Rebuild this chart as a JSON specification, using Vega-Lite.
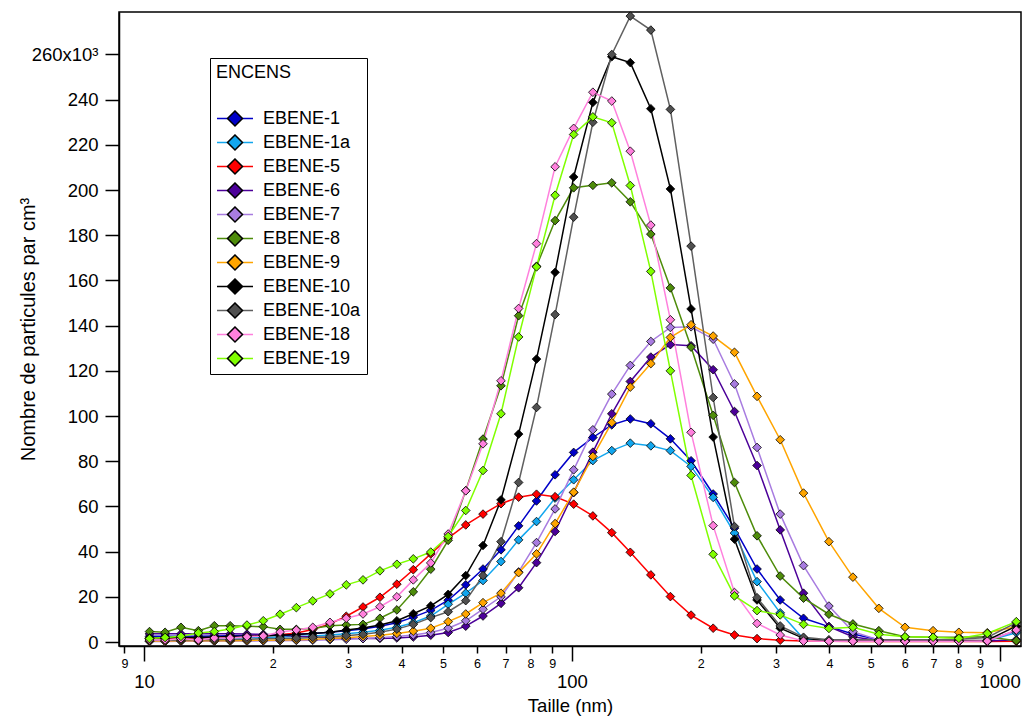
{
  "$schema": "https://vega.github.io/schema/vega-lite/v6.json",
  "width": 902,
  "height": 634,
  "autosize": {"type": "none"},
  "padding": {"left": 119, "top": 12, "right": 2, "bottom": 70},
  "background": "white",
  "config": {
    "font": "Liberation Sans",
    "view": {"stroke": "black", "strokeWidth": 1.5},
    "axis": {"grid": false, "domainColor": "black", "tickColor": "black", "labelColor": "black", "titleColor": "black", "titleFontWeight": "normal", "domainWidth": 1.5, "tickWidth": 1.5}
  },
  "data": {"values": [
    {"d": 10.3, "EBENE-1": 2.5, "EBENE-1a": 1.5, "EBENE-5": 1.5, "EBENE-6": 3.6, "EBENE-7": 0.2, "EBENE-8": 4.6, "EBENE-9": 0.4, "EBENE-10": 1.8, "EBENE-10a": 0.8, "EBENE-18": 0.9, "EBENE-19": 1.5},
    {"d": 11.2, "EBENE-1": 2.5, "EBENE-1a": 1.5, "EBENE-5": 1.6, "EBENE-6": 3.6, "EBENE-7": 0.2, "EBENE-8": 4.3, "EBENE-9": 0.4, "EBENE-10": 1.8, "EBENE-10a": 0.8, "EBENE-18": 0.9, "EBENE-19": 2.0},
    {"d": 12.2, "EBENE-1": 2.6, "EBENE-1a": 1.6, "EBENE-5": 1.7, "EBENE-6": 3.6, "EBENE-7": 0.3, "EBENE-8": 6.5, "EBENE-9": 0.5, "EBENE-10": 2.0, "EBENE-10a": 0.9, "EBENE-18": 1.5, "EBENE-19": 2.5},
    {"d": 13.4, "EBENE-1": 2.6, "EBENE-1a": 1.6, "EBENE-5": 1.8, "EBENE-6": 3.7, "EBENE-7": 0.3, "EBENE-8": 5.0, "EBENE-9": 0.5, "EBENE-10": 2.0, "EBENE-10a": 1.0, "EBENE-18": 0.9, "EBENE-19": 4.0},
    {"d": 14.6, "EBENE-1": 2.7, "EBENE-1a": 1.7, "EBENE-5": 2.0, "EBENE-6": 3.7, "EBENE-7": 0.3, "EBENE-8": 7.2, "EBENE-9": 0.6, "EBENE-10": 2.2, "EBENE-10a": 1.0, "EBENE-18": 1.8, "EBENE-19": 4.6},
    {"d": 15.9, "EBENE-1": 2.8, "EBENE-1a": 1.8, "EBENE-5": 2.2, "EBENE-6": 3.6, "EBENE-7": 0.4, "EBENE-8": 7.2, "EBENE-9": 0.6, "EBENE-10": 2.4, "EBENE-10a": 1.1, "EBENE-18": 1.8, "EBENE-19": 5.8},
    {"d": 17.4, "EBENE-1": 2.9, "EBENE-1a": 1.9, "EBENE-5": 2.4, "EBENE-6": 3.5, "EBENE-7": 0.4, "EBENE-8": 7.0, "EBENE-9": 0.7, "EBENE-10": 2.6, "EBENE-10a": 1.2, "EBENE-18": 2.3, "EBENE-19": 7.5},
    {"d": 19.0, "EBENE-1": 3.0, "EBENE-1a": 2.0, "EBENE-5": 2.7, "EBENE-6": 3.4, "EBENE-7": 0.5, "EBENE-8": 6.8, "EBENE-9": 0.8, "EBENE-10": 2.8, "EBENE-10a": 1.4, "EBENE-18": 2.7, "EBENE-19": 9.4},
    {"d": 20.8, "EBENE-1": 3.2, "EBENE-1a": 2.2, "EBENE-5": 3.2, "EBENE-6": 3.0, "EBENE-7": 0.6, "EBENE-8": 5.6, "EBENE-9": 0.9, "EBENE-10": 3.0, "EBENE-10a": 1.5, "EBENE-18": 4.4, "EBENE-19": 12.3},
    {"d": 22.7, "EBENE-1": 3.4, "EBENE-1a": 2.4, "EBENE-5": 4.0, "EBENE-6": 2.6, "EBENE-7": 0.7, "EBENE-8": 5.6, "EBENE-9": 1.0, "EBENE-10": 3.3, "EBENE-10a": 1.7, "EBENE-18": 5.3, "EBENE-19": 15.2},
    {"d": 24.8, "EBENE-1": 3.8, "EBENE-1a": 2.7, "EBENE-5": 5.5, "EBENE-6": 2.2, "EBENE-7": 0.8, "EBENE-8": 6.0, "EBENE-9": 1.2, "EBENE-10": 3.8, "EBENE-10a": 2.0, "EBENE-18": 6.5, "EBENE-19": 18.2},
    {"d": 27.2, "EBENE-1": 4.3, "EBENE-1a": 3.1, "EBENE-5": 8.0, "EBENE-6": 1.8, "EBENE-7": 1.0, "EBENE-8": 7.2, "EBENE-9": 1.5, "EBENE-10": 4.3, "EBENE-10a": 2.3, "EBENE-18": 8.7, "EBENE-19": 21.3},
    {"d": 29.7, "EBENE-1": 5.0, "EBENE-1a": 3.6, "EBENE-5": 11.4, "EBENE-6": 1.6, "EBENE-7": 1.2, "EBENE-8": 7.5, "EBENE-9": 1.9, "EBENE-10": 5.3, "EBENE-10a": 2.8, "EBENE-18": 10.5, "EBENE-19": 25.3},
    {"d": 32.5, "EBENE-1": 5.8, "EBENE-1a": 4.3, "EBENE-5": 15.5, "EBENE-6": 1.5, "EBENE-7": 1.5, "EBENE-8": 7.8, "EBENE-9": 2.4, "EBENE-10": 6.2, "EBENE-10a": 3.4, "EBENE-18": 12.4, "EBENE-19": 27.5},
    {"d": 35.6, "EBENE-1": 7.0, "EBENE-1a": 5.2, "EBENE-5": 19.8, "EBENE-6": 1.6, "EBENE-7": 1.9, "EBENE-8": 10.5, "EBENE-9": 3.0, "EBENE-10": 7.5, "EBENE-10a": 4.3, "EBENE-18": 15.6, "EBENE-19": 31.5},
    {"d": 39.0, "EBENE-1": 8.5, "EBENE-1a": 6.5, "EBENE-5": 25.6, "EBENE-6": 1.8, "EBENE-7": 2.4, "EBENE-8": 14.2, "EBENE-9": 3.8, "EBENE-10": 9.4, "EBENE-10a": 5.7, "EBENE-18": 20.0, "EBENE-19": 34.4},
    {"d": 42.6, "EBENE-1": 11.0, "EBENE-1a": 8.5, "EBENE-5": 32.0, "EBENE-6": 2.2, "EBENE-7": 3.1, "EBENE-8": 22.2, "EBENE-9": 4.8, "EBENE-10": 12.5, "EBENE-10a": 7.8, "EBENE-18": 27.5, "EBENE-19": 36.8},
    {"d": 46.8, "EBENE-1": 14.0, "EBENE-1a": 11.5, "EBENE-5": 39.0, "EBENE-6": 3.0, "EBENE-7": 4.2, "EBENE-8": 32.2, "EBENE-9": 6.1, "EBENE-10": 16.0, "EBENE-10a": 10.8, "EBENE-18": 35.0, "EBENE-19": 39.8},
    {"d": 51.4, "EBENE-1": 18.5, "EBENE-1a": 16.7, "EBENE-5": 46.0, "EBENE-6": 4.2, "EBENE-7": 6.1, "EBENE-8": 45.0, "EBENE-9": 9.0, "EBENE-10": 21.1, "EBENE-10a": 13.4, "EBENE-18": 47.8, "EBENE-19": 46.7},
    {"d": 56.5, "EBENE-1": 25.3, "EBENE-1a": 21.6, "EBENE-5": 51.8, "EBENE-6": 7.0, "EBENE-7": 9.4, "EBENE-8": 67.0, "EBENE-9": 12.4, "EBENE-10": 29.4, "EBENE-10a": 18.3, "EBENE-18": 66.9, "EBENE-19": 58.2},
    {"d": 62.0, "EBENE-1": 32.3, "EBENE-1a": 27.2, "EBENE-5": 56.6, "EBENE-6": 11.5, "EBENE-7": 14.5, "EBENE-8": 89.8, "EBENE-9": 17.4, "EBENE-10": 42.7, "EBENE-10a": 29.4, "EBENE-18": 87.7, "EBENE-19": 75.9},
    {"d": 68.3, "EBENE-1": 40.8, "EBENE-1a": 35.6, "EBENE-5": 61.2, "EBENE-6": 17.1, "EBENE-7": 20.0, "EBENE-8": 113.4, "EBENE-9": 21.6, "EBENE-10": 62.9, "EBENE-10a": 44.4, "EBENE-18": 115.6, "EBENE-19": 101.0},
    {"d": 75.1, "EBENE-1": 51.4, "EBENE-1a": 45.2, "EBENE-5": 64.1, "EBENE-6": 24.0, "EBENE-7": 31.0, "EBENE-8": 144.4, "EBENE-9": 30.7, "EBENE-10": 92.0, "EBENE-10a": 70.6, "EBENE-18": 147.6, "EBENE-19": 135.0},
    {"d": 82.7, "EBENE-1": 62.4, "EBENE-1a": 53.3, "EBENE-5": 65.4, "EBENE-6": 35.1, "EBENE-7": 44.0, "EBENE-8": 166.3, "EBENE-9": 39.0, "EBENE-10": 125.2, "EBENE-10a": 103.8, "EBENE-18": 176.3, "EBENE-19": 166.0},
    {"d": 91.4, "EBENE-1": 74.0, "EBENE-1a": 63.7, "EBENE-5": 64.3, "EBENE-6": 48.9, "EBENE-7": 58.9, "EBENE-8": 186.5, "EBENE-9": 52.4, "EBENE-10": 163.6, "EBENE-10a": 144.9, "EBENE-18": 210.3, "EBENE-19": 197.7},
    {"d": 101, "EBENE-1": 83.9, "EBENE-1a": 71.8, "EBENE-5": 61.0, "EBENE-6": 66.1, "EBENE-7": 76.2, "EBENE-8": 201.0, "EBENE-9": 66.3, "EBENE-10": 205.8, "EBENE-10a": 188.0, "EBENE-18": 227.3, "EBENE-19": 224.6},
    {"d": 112, "EBENE-1": 90.5, "EBENE-1a": 80.3, "EBENE-5": 55.8, "EBENE-6": 84.0, "EBENE-7": 93.9, "EBENE-8": 202.1, "EBENE-9": 82.1, "EBENE-10": 238.8, "EBENE-10a": 230.0, "EBENE-18": 243.3, "EBENE-19": 232.4},
    {"d": 124, "EBENE-1": 96.1, "EBENE-1a": 84.7, "EBENE-5": 48.4, "EBENE-6": 101.0, "EBENE-7": 109.7, "EBENE-8": 203.2, "EBENE-9": 97.1, "EBENE-10": 259.0, "EBENE-10a": 260.0, "EBENE-18": 239.4, "EBENE-19": 229.8},
    {"d": 137, "EBENE-1": 98.7, "EBENE-1a": 88.0, "EBENE-5": 39.7, "EBENE-6": 115.3, "EBENE-7": 122.4, "EBENE-8": 194.8, "EBENE-9": 112.8, "EBENE-10": 256.4, "EBENE-10a": 277.0, "EBENE-18": 217.2, "EBENE-19": 202.0},
    {"d": 153, "EBENE-1": 96.6, "EBENE-1a": 86.8, "EBENE-5": 29.7, "EBENE-6": 126.1, "EBENE-7": 133.0, "EBENE-8": 180.5, "EBENE-9": 123.2, "EBENE-10": 236.0, "EBENE-10a": 270.8, "EBENE-18": 184.5, "EBENE-19": 164.0},
    {"d": 170, "EBENE-1": 89.9, "EBENE-1a": 84.7, "EBENE-5": 20.1, "EBENE-6": 131.6, "EBENE-7": 139.2, "EBENE-8": 156.7, "EBENE-9": 134.8, "EBENE-10": 200.5, "EBENE-10a": 235.7, "EBENE-18": 142.6, "EBENE-19": 120.0},
    {"d": 190, "EBENE-1": 80.2, "EBENE-1a": 77.7, "EBENE-5": 11.9, "EBENE-6": 131.1, "EBENE-7": 139.5, "EBENE-8": 130.5, "EBENE-9": 140.4, "EBENE-10": 147.4, "EBENE-10a": 175.2, "EBENE-18": 92.8, "EBENE-19": 73.7},
    {"d": 214, "EBENE-1": 65.5, "EBENE-1a": 64.0, "EBENE-5": 6.1, "EBENE-6": 120.5, "EBENE-7": 134.0, "EBENE-8": 100.3, "EBENE-9": 135.4, "EBENE-10": 90.7, "EBENE-10a": 108.2, "EBENE-18": 51.5, "EBENE-19": 38.8},
    {"d": 240, "EBENE-1": 50.4, "EBENE-1a": 48.2, "EBENE-5": 3.1, "EBENE-6": 102.0, "EBENE-7": 114.2, "EBENE-8": 70.6, "EBENE-9": 128.2, "EBENE-10": 45.5, "EBENE-10a": 51.1, "EBENE-18": 21.9, "EBENE-19": 20.4},
    {"d": 271, "EBENE-1": 32.3, "EBENE-1a": 26.7, "EBENE-5": 1.5, "EBENE-6": 78.1, "EBENE-7": 86.1, "EBENE-8": 47.0, "EBENE-9": 108.7, "EBENE-10": 18.6, "EBENE-10a": 19.6, "EBENE-18": 8.2, "EBENE-19": 13.9},
    {"d": 307, "EBENE-1": 18.6, "EBENE-1a": 12.9, "EBENE-5": 0.8, "EBENE-6": 49.6, "EBENE-7": 56.6, "EBENE-8": 29.2, "EBENE-9": 89.5, "EBENE-10": 6.1, "EBENE-10a": 7.1, "EBENE-18": 3.1, "EBENE-19": 12.0},
    {"d": 348, "EBENE-1": 10.5, "EBENE-1a": 1.4, "EBENE-5": 0.4, "EBENE-6": 21.6, "EBENE-7": 33.8, "EBENE-8": 19.4, "EBENE-9": 65.9, "EBENE-10": 1.6, "EBENE-10a": 2.1, "EBENE-18": 0.4, "EBENE-19": 7.8},
    {"d": 399, "EBENE-1": 6.8, "EBENE-1a": 0.3, "EBENE-5": 0.3, "EBENE-6": 6.8, "EBENE-7": 15.9, "EBENE-8": 12.3, "EBENE-9": 44.4, "EBENE-10": 0.6, "EBENE-10a": 1.0, "EBENE-18": 0.3, "EBENE-19": 6.0},
    {"d": 454, "EBENE-1": 3.5, "EBENE-1a": 0.3, "EBENE-5": 0.2, "EBENE-6": 2.3, "EBENE-7": 4.6, "EBENE-8": 8.0, "EBENE-9": 28.7, "EBENE-10": 0.5, "EBENE-10a": 1.0, "EBENE-18": 0.3, "EBENE-19": 6.5},
    {"d": 522, "EBENE-1": 1.0, "EBENE-1a": 0.3, "EBENE-5": 0.2, "EBENE-6": 0.6, "EBENE-7": 0.9, "EBENE-8": 5.0, "EBENE-9": 14.9, "EBENE-10": 0.5, "EBENE-10a": 1.0, "EBENE-18": 0.3, "EBENE-19": 3.4},
    {"d": 601, "EBENE-1": 0.5, "EBENE-1a": 0.3, "EBENE-5": 0.2, "EBENE-6": 0.4, "EBENE-7": 0.5, "EBENE-8": 2.3, "EBENE-9": 6.5, "EBENE-10": 0.5, "EBENE-10a": 1.0, "EBENE-18": 0.3, "EBENE-19": 2.3},
    {"d": 699, "EBENE-1": 0.5, "EBENE-1a": 0.3, "EBENE-5": 0.2, "EBENE-6": 0.4, "EBENE-7": 0.5, "EBENE-8": 2.1, "EBENE-9": 5.0, "EBENE-10": 0.5, "EBENE-10a": 1.0, "EBENE-18": 0.3, "EBENE-19": 2.1},
    {"d": 803, "EBENE-1": 0.5, "EBENE-1a": 0.3, "EBENE-5": 0.2, "EBENE-6": 0.4, "EBENE-7": 0.5, "EBENE-8": 2.1, "EBENE-9": 4.3, "EBENE-10": 0.5, "EBENE-10a": 1.2, "EBENE-18": 0.3, "EBENE-19": 1.6},
    {"d": 936, "EBENE-1": 0.6, "EBENE-1a": 0.5, "EBENE-5": 0.2, "EBENE-6": 0.4, "EBENE-7": 0.5, "EBENE-8": 2.3, "EBENE-9": 4.1, "EBENE-10": 0.8, "EBENE-10a": 2.0, "EBENE-18": 0.4, "EBENE-19": 3.8},
    {"d": 1094, "EBENE-1": 5.0, "EBENE-1a": 4.1, "EBENE-5": 0.3, "EBENE-6": 1.0, "EBENE-7": 5.0, "EBENE-8": 0.6, "EBENE-9": 6.8, "EBENE-10": 7.0, "EBENE-10a": 8.6, "EBENE-18": 5.3, "EBENE-19": 9.0}
  ]},
  "transform": [
    {"fold": ["EBENE-1", "EBENE-1a", "EBENE-5", "EBENE-6", "EBENE-7", "EBENE-8", "EBENE-9", "EBENE-10", "EBENE-10a", "EBENE-18", "EBENE-19"], "as": ["serie", "n"]}
  ],
  "layer": [
    {
      "mark": {"type": "line", "strokeWidth": 1.5},
      "encoding": {
        "x": {"field": "d", "type": "quantitative",
          "scale": {"type": "log", "domain": [8.74, 1122], "nice": false},
          "axis": {"orient": "bottom", "values": [10, 100, 1000], "tickSize": 15, "labelFontSize": 18.5, "labelPadding": 11, "labelExpr": "format(datum.value, 'd')", "labelFlush": false, "labelOverlap": false, "title": "Taille (nm)", "titleFontSize": 18.5, "titleY": 50}},
        "y": {"field": "n", "type": "quantitative",
          "scale": {"domain": [-1.77, 278.8], "nice": false, "zero": false},
          "axis": {"values": [0, 20, 40, 60, 80, 100, 120, 140, 160, 180, 200, 220, 240, 260], "tickSize": 14, "labelFontSize": 18.5, "labelPadding": 7, "labelOverlap": false, "labelExpr": "datum.value == 260 ? '260x10³' : format(datum.value, 'd')", "title": "Nombre de particules par cm³", "titleFontSize": 20, "titleX": -81}},
        "stroke": {"field": "serie", "type": "nominal",
          "scale": {"domain": ["EBENE-1", "EBENE-1a", "EBENE-5", "EBENE-6", "EBENE-7", "EBENE-8", "EBENE-9", "EBENE-10", "EBENE-10a", "EBENE-18", "EBENE-19"],
                    "range": ["#0000C8", "#12A6EE", "#FF0000", "#4C0099", "#A87CE0", "#4E8C0A", "#FFA500", "#000000", "#606060", "#FF80DD", "#80FF00"]},
          "legend": {"title": "ENCENS", "orient": "none", "legendX": 91, "legendY": 46, "symbolType": "M-1,0H-0.4M0.4,0H1", "symbolSize": 1296, "symbolStrokeWidth": 1.5, "symbolFillColor": "transparent", "clipHeight": 17, "rowPadding": 5, "padding": 6, "labelOffset": 9, "labelFontSize": 18, "labelColor": "black", "titleFontSize": 18, "titleFontWeight": "normal", "titleColor": "black", "titlePadding": 28, "strokeColor": "black", "labelLimit": 300,
            "labelExpr": "indexof(['EBENE-1', 'EBENE-10', 'EBENE-10a', 'EBENE-18'], datum.label) >= 0 ? datum.label : '\u00a0' + datum.label"}}
      }
    },
    {
      "mark": {"type": "point", "shape": "diamond", "filled": true, "size": 75, "stroke": "black", "strokeWidth": 0.8, "opacity": 1},
      "encoding": {
        "x": {"field": "d", "type": "quantitative",
          "axis": {"orient": "bottom", "values": [9, 20, 30, 40, 50, 60, 70, 80, 90, 200, 300, 400, 500, 600, 700, 800, 900], "tickSize": 7, "labelFontSize": 12.5, "labelPadding": 4.5, "labelExpr": "datum.value < 10 ? '9' : (datum.value < 100 ? format(datum.value / 10, 'd') : format(datum.value / 100, 'd'))", "labelFlush": false, "labelOverlap": false, "domain": false, "title": null}},
        "y": {"field": "n", "type": "quantitative",
          "axis": {"values": [0, 20, 40, 60, 80, 100, 120, 140, 160, 180, 200, 220, 240, 260], "tickSize": 14, "labelFontSize": 18.5, "labelPadding": 7, "labelOverlap": false, "labelExpr": "datum.value == 260 ? '260x10³' : format(datum.value, 'd')", "title": "Nombre de particules par cm³", "titleFontSize": 20, "titleX": -81}},
        "fill": {"field": "serie", "type": "nominal", "sort": null,
          "scale": {"range": ["#0000C8", "#12A6EE", "#FF0000", "#4C0099", "#A87CE0", "#4E8C0A", "#FFA500", "#000000", "#505050", "#FF80DD", "#80FF00"]},
          "legend": {"title": "ENCENS", "orient": "none", "legendX": 91, "legendY": 46, "symbolType": "M0,-0.417L0.417,0L0,0.417L-0.417,0Z", "symbolSize": 1296, "symbolStrokeWidth": 1.5, "symbolStrokeColor": "black", "clipHeight": 17, "rowPadding": 5, "padding": 6, "labelOffset": 9, "labelFontSize": 18, "labelColor": "transparent", "titleFontSize": 18, "titleFontWeight": "normal", "titleColor": "transparent", "titlePadding": 28, "labelLimit": 300}}
      }
    }
  ],
  "resolve": {"axis": {"x": "independent"}}
}
